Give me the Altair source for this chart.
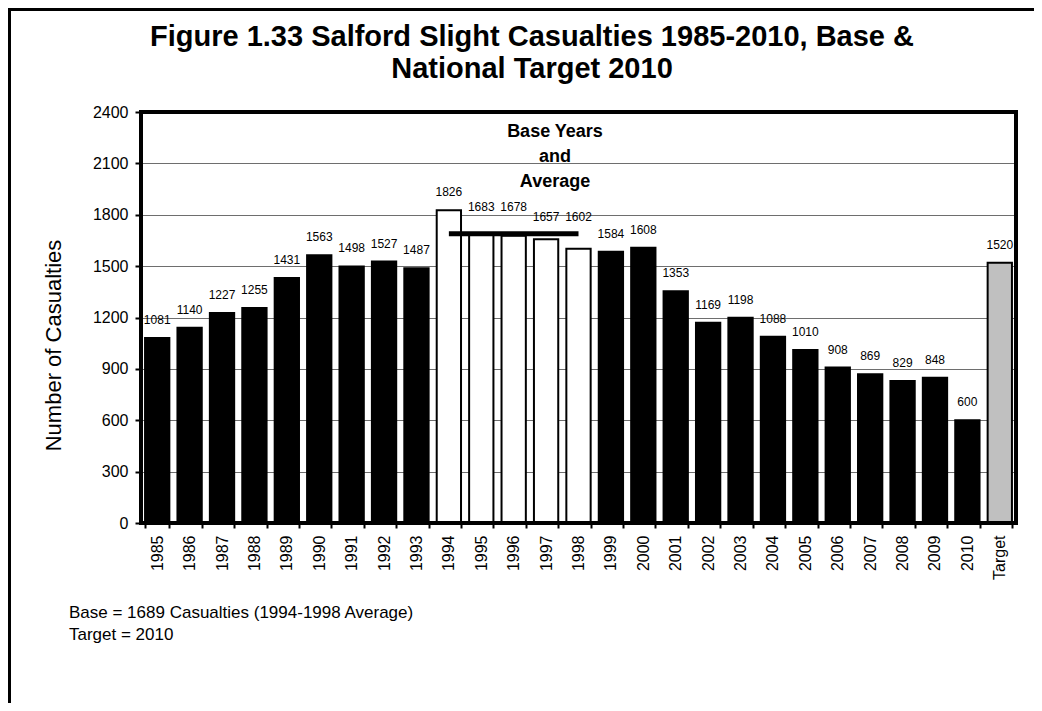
import altair as alt
import pandas as pd

# ---- data ----
categories = ["1985", "1986", "1987", "1988", "1989", "1990", "1991", "1992", "1993",
              "1994", "1995", "1996", "1997", "1998", "1999", "2000", "2001", "2002",
              "2003", "2004", "2005", "2006", "2007", "2008", "2009", "2010", "Target"]
values = [1081, 1140, 1227, 1255, 1431, 1563, 1498, 1527, 1487,
          1826, 1683, 1678, 1657, 1602, 1584, 1608, 1353, 1169,
          1198, 1088, 1010, 908, 869, 829, 848, 600, 1520]
kinds = (["Annual"] * 9 + ["Base"] * 5 + ["Annual"] * 12 + ["Target"])
base_avg = 1689
y_ticks = [0, 300, 600, 900, 1200, 1500, 1800, 2100, 2400]

title_lines = ["Figure 1.33 Salford Slight Casualties 1985-2010, Base &",
               "National Target 2010"]
base_note = ["Base Years", "and", "Average"]
foot_lines = ["Base = 1689 Casualties (1994-1998 Average)", "Target = 2010"]

df = pd.DataFrame({"cat": categories, "value": values, "kind": kinds})
one = pd.DataFrame({"k": [0]})

FONT = "Liberation Sans"
W, H = 875, 411
YTITLE = "Number of Casualties"

xenc = alt.X("cat:N", sort=categories,
             scale=alt.Scale(paddingInner=0.25),
             axis=alt.Axis(title=None, labelAngle=270, labelFontSize=16,
                           labelColor="black", labelFont=FONT, labelPadding=7,
                           tickBand="extent", tickSize=5, tickWidth=2,
                           tickColor="black", domain=True, domainColor="black",
                           domainWidth=3, grid=False))
yscale = alt.Scale(domain=[0, 2400], nice=False, zero=True)
yaxis = alt.Axis(values=y_ticks, format="d", title=YTITLE,
                 titleFontSize=22, titleFontWeight="normal",
                 titleFont=FONT, titleColor="black",
                 titleAngle=270, titleX=-88, titleY=233,
                 titleAlign="center", titleBaseline="middle",
                 labelFontSize=16, labelFont=FONT, labelColor="black",
                 labelPadding=7, tickSize=6, tickWidth=2,
                 tickColor="black", domain=False, grid=True,
                 gridColor="#6e6e6e", gridWidth=1)

bars = alt.Chart(df).mark_bar(stroke="black", strokeWidth=2).encode(
    x=xenc,
    y=alt.Y("value:Q", scale=yscale, axis=yaxis, title=YTITLE),
    fill=alt.Fill("kind:N",
                  scale=alt.Scale(domain=["Annual", "Base", "Target"],
                                  range=["#000000", "#ffffff", "#c0c0c0"]),
                  legend=None),
)

avg_df = df[df["kind"] == "Base"].assign(avg=base_avg)
avg_line = alt.Chart(avg_df).mark_line(color="black", strokeWidth=5,
                                       strokeCap="butt").encode(
    x=alt.X("cat:N", sort=categories),
    y=alt.Y("avg:Q", scale=yscale, axis=yaxis, title=YTITLE),
)

labels = alt.Chart(df).transform_calculate(
    label_y="(datum.cat=='1995'||datum.cat=='1996') ? 1742 : "
            "((datum.cat=='1997'||datum.cat=='1998') ? 1683 : datum.value)"
).mark_text(fontSize=12, font=FONT, color="black", baseline="middle",
            dy=-18).encode(
    x=alt.X("cat:N", sort=categories),
    y=alt.Y("label_y:Q", scale=yscale, axis=yaxis, title=YTITLE),
    text=alt.Text("value:Q"),
)

note = alt.Chart(one).mark_text(fontSize=18, fontWeight="bold", font=FONT,
                                color="black", align="center",
                                baseline="alphabetic", lineHeight=25).encode(
    x=alt.value(414), y=alt.value(25), text=alt.value(base_note))

title = alt.Chart(one).mark_text(fontSize=29, fontWeight="bold", font=FONT,
                                 color="black", align="center",
                                 baseline="alphabetic", lineHeight=32).encode(
    x=alt.value(391), y=alt.value(-66), text=alt.value(title_lines))

foot = alt.Chart(one).mark_text(fontSize=17, font=FONT, color="black",
                                align="left", baseline="alphabetic",
                                lineHeight=22).encode(
    x=alt.value(-72), y=alt.value(506), text=alt.value(foot_lines))

frame = alt.Chart(one).mark_rect(fillOpacity=0, stroke="black",
                                 strokeWidth=4).encode(
    x=alt.value(0), x2=alt.value(W), y=alt.value(0), y2=alt.value(H))

border_top = alt.Chart(one).mark_rule(color="black", strokeWidth=3).encode(
    x=alt.value(-133), x2=alt.value(W + 18), y=alt.value(-102.5))
border_left = alt.Chart(one).mark_rule(color="black", strokeWidth=3).encode(
    x=alt.value(-131.5), y=alt.value(-104), y2=alt.value(H + 180))

chart = alt.layer(bars, avg_line, labels, note, title, foot, frame,
                  border_top, border_left).properties(
    width=W, height=H,
    autosize=alt.AutoSizeParams(type="none"),
    padding={"left": 133, "top": 104, "right": 18, "bottom": 180},
).configure_view(stroke=None).configure(background="white")

chart.save("out.html", embed_options={"renderer": "svg", "actions": False})
